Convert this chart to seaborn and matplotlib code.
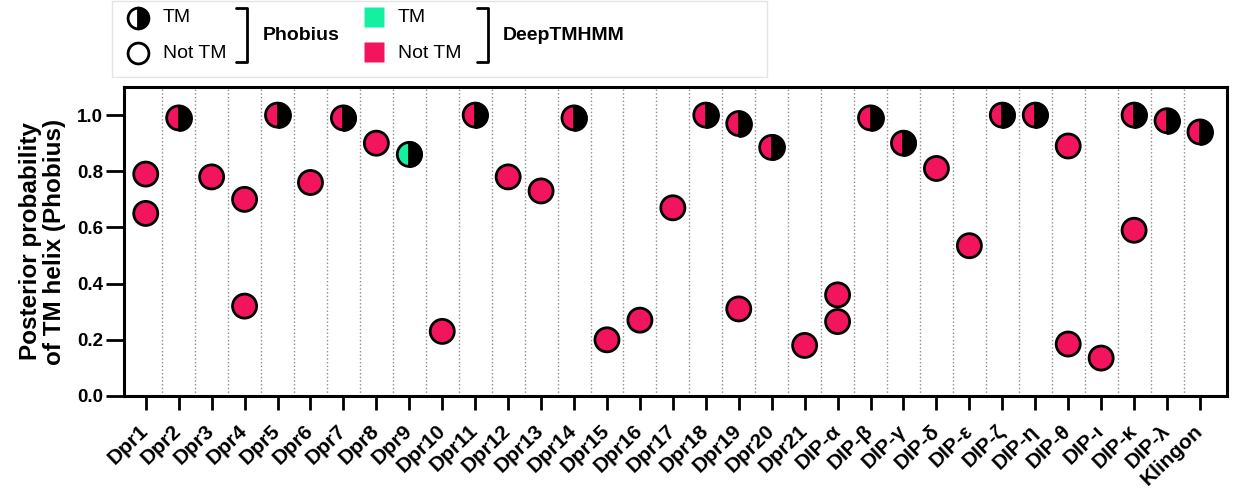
import pandas as pd
import matplotlib
matplotlib.use("Agg")
import matplotlib.pyplot as plt
from matplotlib.markers import MarkerStyle
from matplotlib.patches import Rectangle
import seaborn as sns

proteins = ["Dpr1", "Dpr2", "Dpr3", "Dpr4", "Dpr5", "Dpr6", "Dpr7", "Dpr8", "Dpr9",
            "Dpr10", "Dpr11", "Dpr12", "Dpr13", "Dpr14", "Dpr15", "Dpr16", "Dpr17",
            "Dpr18", "Dpr19", "Dpr20", "Dpr21", "DIP-α", "DIP-β", "DIP-γ", "DIP-δ",
            "DIP-ε", "DIP-ζ", "DIP-η", "DIP-θ", "DIP-ι", "DIP-κ", "DIP-λ", "Klingon"]

point_names = ["Dpr1", "Dpr1", "Dpr2", "Dpr3", "Dpr4", "Dpr4", "Dpr5", "Dpr6", "Dpr7",
               "Dpr8", "Dpr9", "Dpr10", "Dpr11", "Dpr12", "Dpr13", "Dpr14", "Dpr15",
               "Dpr16", "Dpr17", "Dpr18", "Dpr19", "Dpr19", "Dpr20", "Dpr21", "DIP-α",
               "DIP-α", "DIP-β", "DIP-γ", "DIP-δ", "DIP-ε", "DIP-ζ", "DIP-η", "DIP-θ",
               "DIP-θ", "DIP-ι", "DIP-κ", "DIP-κ", "DIP-λ", "Klingon"]
point_probs = [0.79, 0.65, 0.99, 0.78, 0.70, 0.32, 1.00, 0.76, 0.99,
               0.90, 0.86, 0.23, 1.00, 0.78, 0.73, 0.99, 0.20,
               0.27, 0.67, 1.00, 0.97, 0.31, 0.885, 0.18, 0.36,
               0.265, 0.99, 0.90, 0.81, 0.535, 1.00, 1.00, 0.89,
               0.185, 0.135, 1.00, 0.59, 0.98, 0.94]
phobius_calls = ["Not TM", "Not TM", "TM", "Not TM", "Not TM", "Not TM", "TM", "Not TM", "TM",
                 "Not TM", "TM", "Not TM", "TM", "Not TM", "Not TM", "TM", "Not TM",
                 "Not TM", "Not TM", "TM", "TM", "Not TM", "TM", "Not TM", "Not TM",
                 "Not TM", "TM", "TM", "Not TM", "Not TM", "TM", "TM", "Not TM",
                 "Not TM", "Not TM", "TM", "Not TM", "TM", "TM"]
deeptmhmm_calls = ["Not TM"] * 10 + ["TM"] + ["Not TM"] * 28

pink = "#F2145C"
green = "#14F0A0"

df = pd.DataFrame({
    "protein": pd.Categorical(point_names, categories=proteins, ordered=True),
    "prob": point_probs,
    "phobius": phobius_calls,
    "deeptmhmm": deeptmhmm_calls,
})

sns.set_theme(style="ticks")
plt.rcParams["font.family"] = ["Liberation Sans", "DejaVu Sans"]
plt.rcParams["text.color"] = "black"
plt.rcParams["axes.labelcolor"] = "black"
plt.rcParams["xtick.color"] = "black"
plt.rcParams["ytick.color"] = "black"

fig = plt.figure(figsize=(12.33, 4.92), dpi=100)
ax = fig.add_axes([124 / 1233, 96 / 492, 1103 / 1233, 309 / 492])

# full circles coloured by DeepTMHMM call
sns.scatterplot(data=df, x="protein", y="prob", hue="deeptmhmm",
                palette={"TM": green, "Not TM": pink}, s=300,
                edgecolor="black", linewidth=2, legend=False, zorder=3,
                clip_on=False, ax=ax)
# black right half for Phobius TM
tm = df[df["phobius"] == "TM"]
sns.scatterplot(data=tm, x="protein", y="prob", color="black",
                marker=MarkerStyle("o", fillstyle="right"), s=300,
                edgecolor="black", linewidth=2, legend=False, zorder=4,
                clip_on=False, ax=ax)

for i in range(len(proteins) - 1):
    ax.axvline(i + 0.5, color="#8c8c8c", ls=":", lw=1, zorder=1)

ax.set_xlim(-0.66, len(proteins) - 0.18)
ax.set_ylim(0, 1.1)
ax.set_yticks([0, 0.2, 0.4, 0.6, 0.8, 1.0])
ax.set_yticklabels(["0.0", "0.2", "0.4", "0.6", "0.8", "1.0"], fontsize=13.5, fontweight="bold")
ax.set_xticks(range(len(proteins)))
ax.set_xticklabels(proteins, rotation=44, ha="right", va="center",
                   rotation_mode="anchor", fontsize=15, fontweight="bold")
ax.tick_params(axis="y", length=13, width=2, pad=2)
ax.tick_params(axis="x", length=10, width=2, pad=13)
for sp in ax.spines.values():
    sp.set_linewidth(2.2)
    sp.set_color("black")
ax.set_xlabel("")
ax.set_ylabel("Posterior probability\nof TM helix (Phobius)", fontsize=17.5,
              fontweight="bold", labelpad=8, linespacing=1.05)

# legend drawn in pixel coordinates above the plot
lax = fig.add_axes([0, 414 / 492, 1, 78 / 492])
lax.set_xlim(0, 1233)
lax.set_ylim(78, 0)
lax.axis("off")
lax.add_patch(Rectangle((112, 1), 655, 76, fill=False, edgecolor="#e4e4e4", lw=1))
lax.plot(138, 18, marker=MarkerStyle("o", fillstyle="right"), ms=15,
         mfc="black", mfcalt="white", mec="black", mew=2)
lax.plot(138, 53, marker="o", ms=15, mfc="white", mec="black", mew=2)
lax.text(163, 18, "TM", fontsize=14, va="center")
lax.text(163, 53, "Not TM", fontsize=14, va="center")
lax.plot([236, 247, 247, 236], [8, 8, 62, 62], color="black", lw=2)
lax.text(263, 35, "Phobius", fontsize=14, fontweight="bold", va="center")
lax.plot(374, 17, marker="s", ms=14, mfc=green, mec="none")
lax.plot(374, 52, marker="s", ms=14, mfc=pink, mec="none")
lax.text(398, 18, "TM", fontsize=14, va="center")
lax.text(398, 53, "Not TM", fontsize=14, va="center")
lax.plot([477, 488, 488, 477], [8, 8, 62, 62], color="black", lw=2)
lax.text(503, 35, "DeepTMHMM", fontsize=14, fontweight="bold", va="center")

fig.savefig("out.png", dpi=100)
